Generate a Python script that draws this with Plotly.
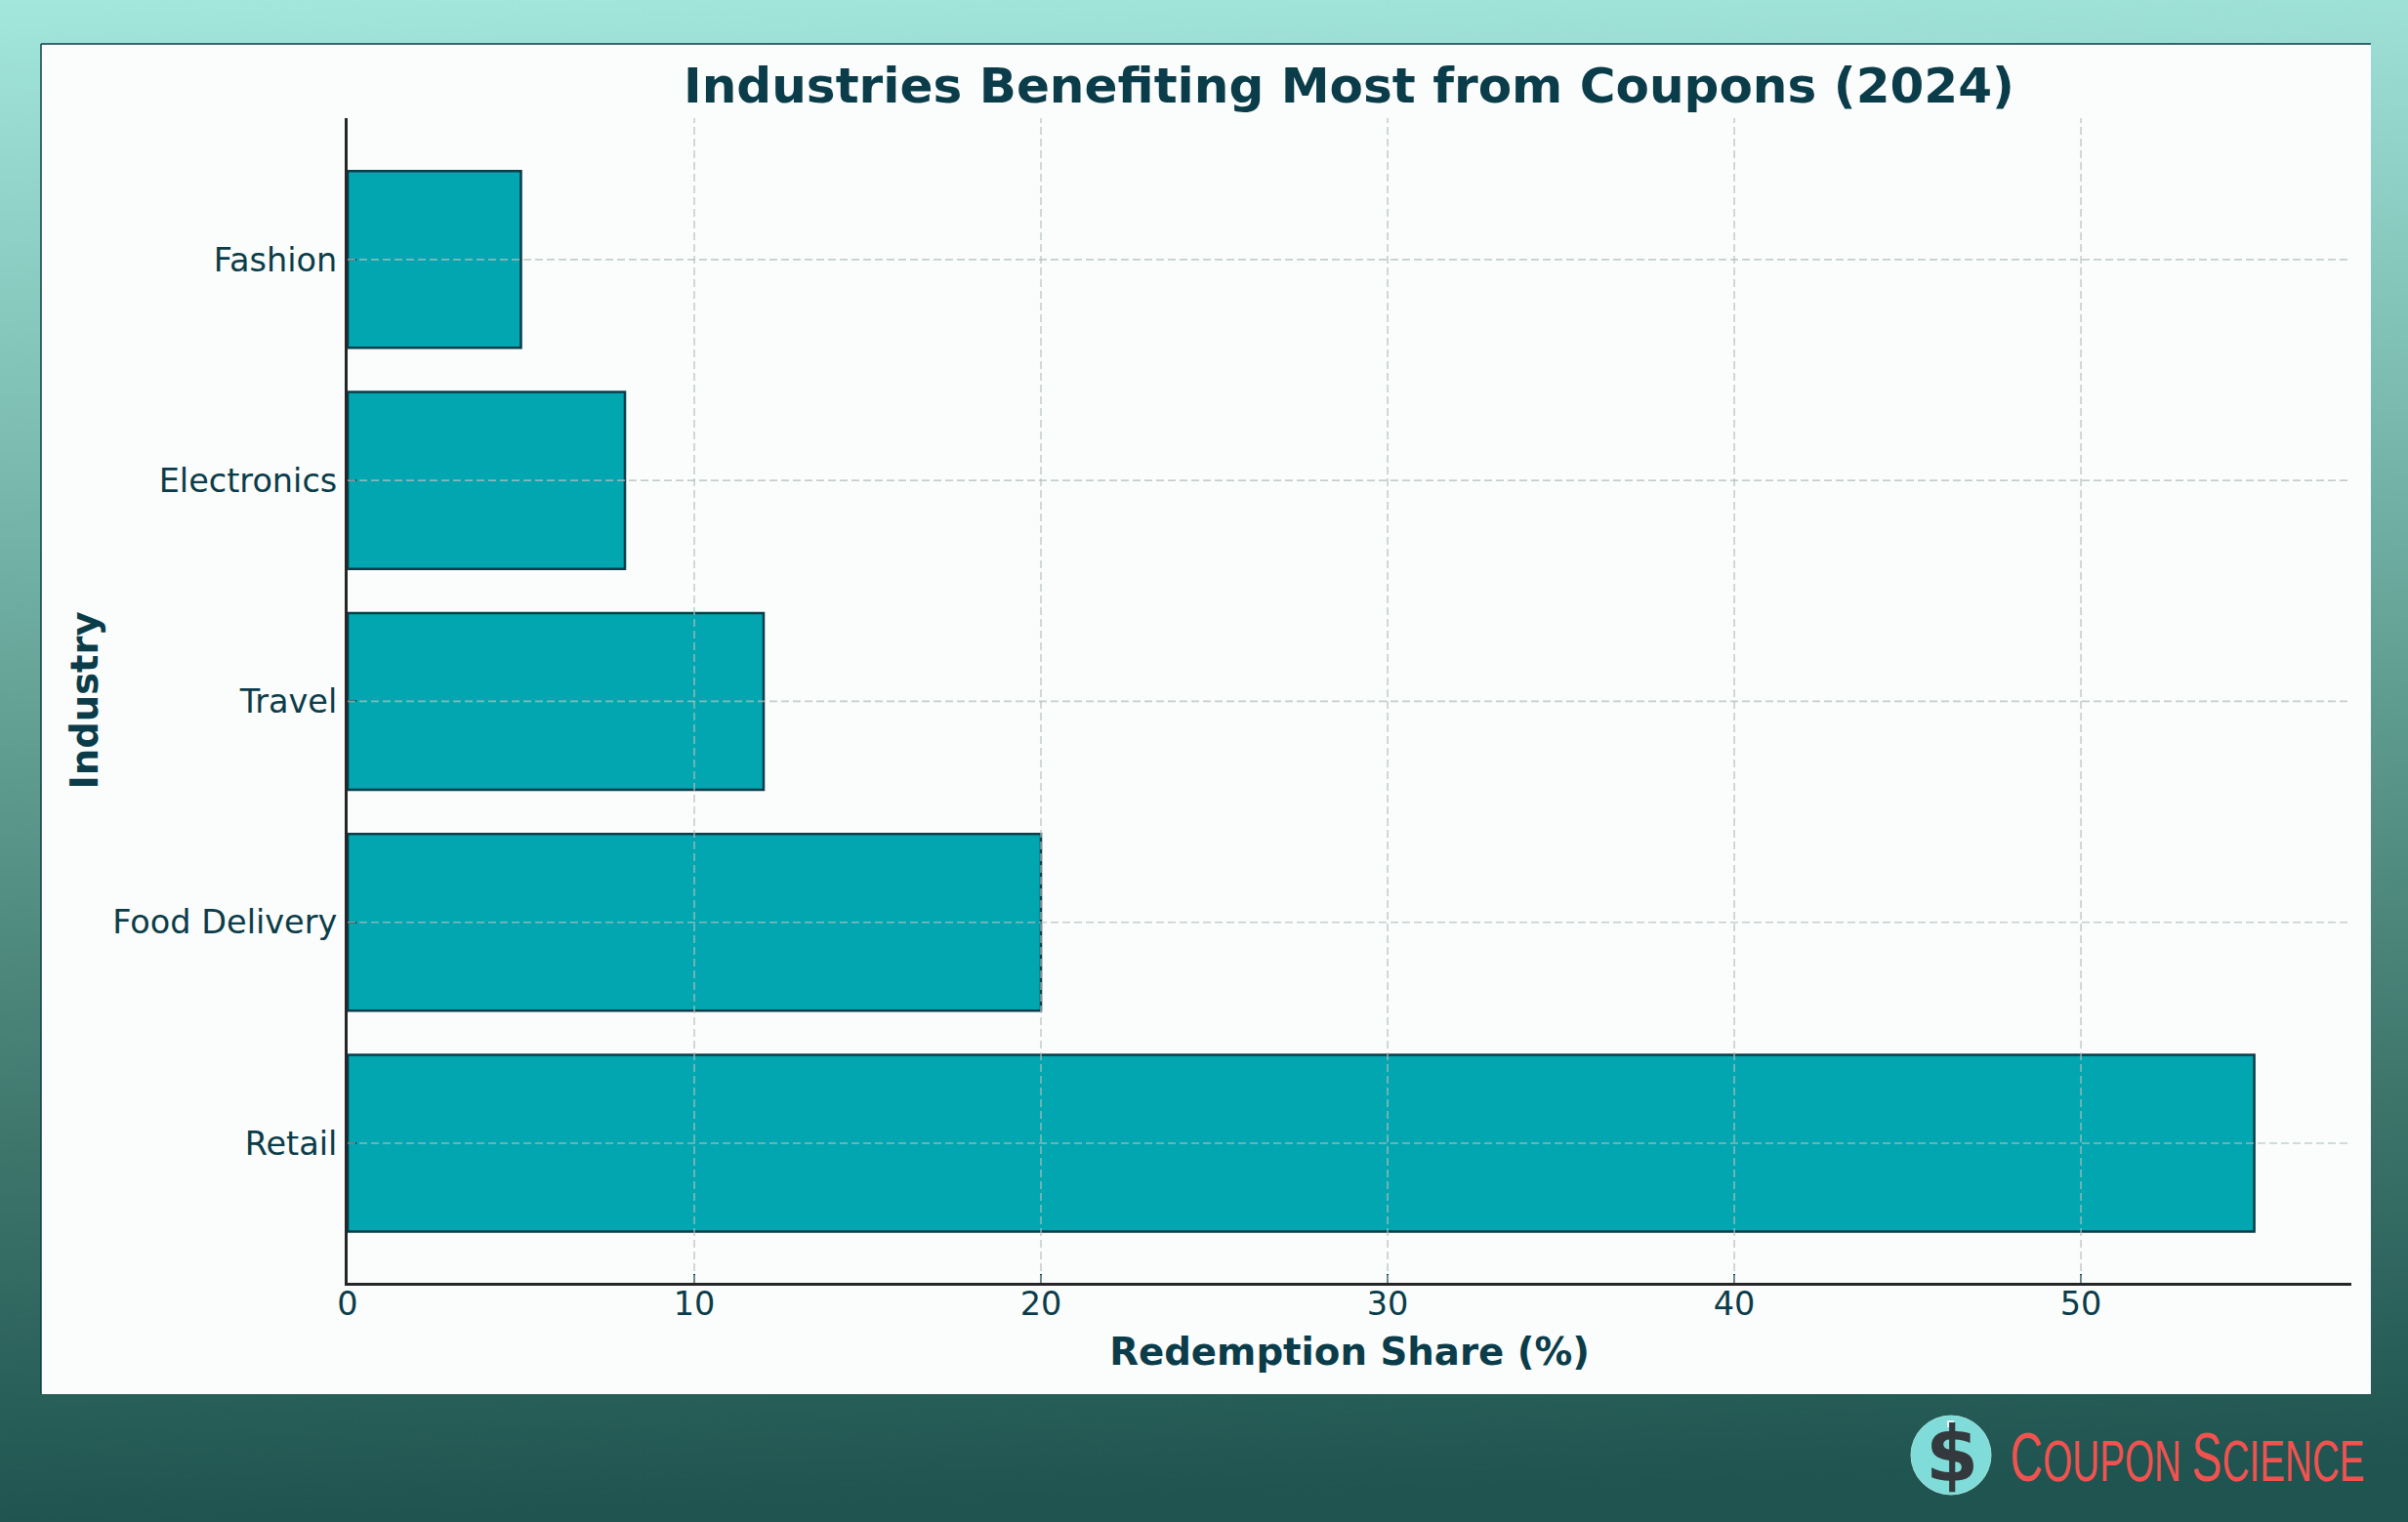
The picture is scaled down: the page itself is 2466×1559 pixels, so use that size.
import base64
import plotly.graph_objects as go

# Data
industries = ["Retail", "Food Delivery", "Travel", "Electronics", "Fashion"]
shares = [55, 20, 12, 8, 5]
x_ticks = [0, 10, 20, 30, 40, 50]

W, H = 2466, 1559
INK = "#0b3c49"
TEAL = "#02a6b0"
AXIS = "#262626"
GRID = "rgba(180,190,190,0.75)"

# page background gradient, as an svg image laid under everything
svg = f"""<svg xmlns='http://www.w3.org/2000/svg' width='{W}' height='{H}'>
<defs><linearGradient id='g' x1='0' y1='0' x2='0.04' y2='1'>
<stop offset='0' stop-color='#a3e6db'/>
<stop offset='0.25' stop-color='#82c3b8'/>
<stop offset='0.5' stop-color='#5f9c90'/>
<stop offset='0.75' stop-color='#3e766c'/>
<stop offset='1' stop-color='#1f5450'/>
</linearGradient></defs>
<rect width='{W}' height='{H}' fill='url(#g)'/></svg>"""
bg_src = "data:image/svg+xml;base64," + base64.b64encode(svg.encode()).decode()


def px(x):
    return x / W


def py(y):
    return 1 - y / H


fig = go.Figure(go.Bar(
    x=shares, y=industries, orientation="h",
    marker=dict(color=TEAL, line=dict(color=INK, width=2.5)),
    width=0.8, hoverinfo="skip",
))

fig.update_layout(
    width=W, height=H,
    margin=dict(l=0, r=0, t=0, b=0),
    paper_bgcolor="#1f5450", plot_bgcolor="rgba(0,0,0,0)",
    font=dict(family="DejaVu Sans", color=INK),
    showlegend=False,
    title=dict(
        text="<b>Industries Benefiting Most from Coupons (2024)</b>",
        font=dict(size=50.1, color=INK, family="DejaVu Sans"),
        automargin=False,
        x=(355 + 2408) / 2 / W, xanchor="center", xref="paper",
        y=py(87), yanchor="middle", yref="paper",
    ),
    images=[dict(source=bg_src, xref="paper", yref="paper", x=0, y=1,
                 sizex=1, sizey=1, xanchor="left", yanchor="top",
                 sizing="stretch", layer="below")],
)

fig.update_xaxes(
    domain=[px(356), px(2408)], range=[0, 57.8], automargin=False,
    tickvals=x_ticks, showgrid=False, zeroline=False,
    ticks="inside", ticklen=9, tickwidth=2, tickcolor=INK,
    showline=True, linecolor=AXIS, linewidth=3,
    tickfont=dict(size=33.5, color=INK), ticklabelstandoff=-10,
    title=dict(text="<b>Redemption Share (%)</b>", font=dict(size=38.7, color=INK), standoff=17),
)
fig.update_yaxes(
    domain=[py(1314), py(121)], range=[-0.632, 4.64], automargin=False,
    type="category", categoryorder="array", categoryarray=industries,
    showgrid=False, zeroline=False,
    ticks="inside", ticklen=9, tickwidth=2, tickcolor=INK,
    showline=True, linecolor=AXIS, linewidth=3,
    tickfont=dict(size=33.5, color=INK), ticklabelstandoff=1,
    title=dict(text="<b>Industry</b>", font=dict(size=38.5, color=INK), standoff=3),
)

# white card behind the plot, with the thin edge on top and left
fig.add_shape(type="rect", xref="paper", yref="paper", layer="below",
              x0=px(42), x1=px(2428), y0=py(1428), y1=py(45),
              fillcolor="#fbfdfc", line_width=0)
fig.add_shape(type="line", xref="paper", yref="paper", layer="below",
              x0=px(42), x1=px(2428), y0=py(45), y1=py(45),
              line=dict(color=INK, width=1.5))
fig.add_shape(type="line", xref="paper", yref="paper", layer="below",
              x0=px(42), x1=px(42), y0=py(45), y1=py(1428),
              line=dict(color=INK, width=1.5))

# gridlines sit over the bars in the original
for t in x_ticks[1:]:
    fig.add_shape(type="line", layer="above", xref="x", yref="y domain",
                  x0=t, x1=t, y0=0, y1=1,
                  line=dict(color=GRID, width=1.6, dash="8px,4px"))
for name in industries:
    fig.add_shape(type="line", layer="above", xref="x domain", yref="y",
                  x0=0, x1=1, y0=name, y1=name,
                  line=dict(color=GRID, width=1.6, dash="8px,4px"))

# logo, bottom right
fig.add_shape(type="circle", xref="paper", yref="paper", layer="above",
              x0=px(1957), x1=px(2039), y0=py(1531), y1=py(1450),
              fillcolor="#7fdcd8", line=dict(color="#9fe0da", width=1))
fig.add_annotation(text="<b>$</b>", xref="paper", yref="paper", showarrow=False,
                   x=px(1999), y=py(1490), xanchor="center", yanchor="middle",
                   font=dict(size=78, color="#33393d", family="DejaVu Sans"))
fig.add_shape(type="rect", xref="paper", yref="paper", layer="above",
              x0=px(1994), x1=px(2001), y0=py(1462), y1=py(1455),
              fillcolor="#e4f2f0", line_width=0)
fig.add_annotation(
    text="<span style='font-size:71px'>C</span>OUPON <span style='font-size:71px'>S</span>CIENCE",
    xref="paper", yref="paper", showarrow=False,
    x=px(2239.5), y=py(1492), xanchor="center", yanchor="middle",
    font=dict(size=59, color="#f0534f", family="Liberation Sans"),
)

# no page margin, and squeeze the logo lettering sideways as no narrow font is installed
squeeze = """
document.body.style.margin = '0';
var a = document.querySelector('.annotation[data-index="1"]');
var r = a.querySelector('text').getBoundingClientRect();
var sx = 363 / r.width, cx = r.left + r.width / 2;
a.setAttribute('transform', 'matrix(' + sx + ',0,0,1,' + cx * (1 - sx) + ',0) ' + (a.getAttribute('transform') || ''));
"""

fig.write_html("out.html", config=dict(displayModeBar=False), post_script=squeeze)
